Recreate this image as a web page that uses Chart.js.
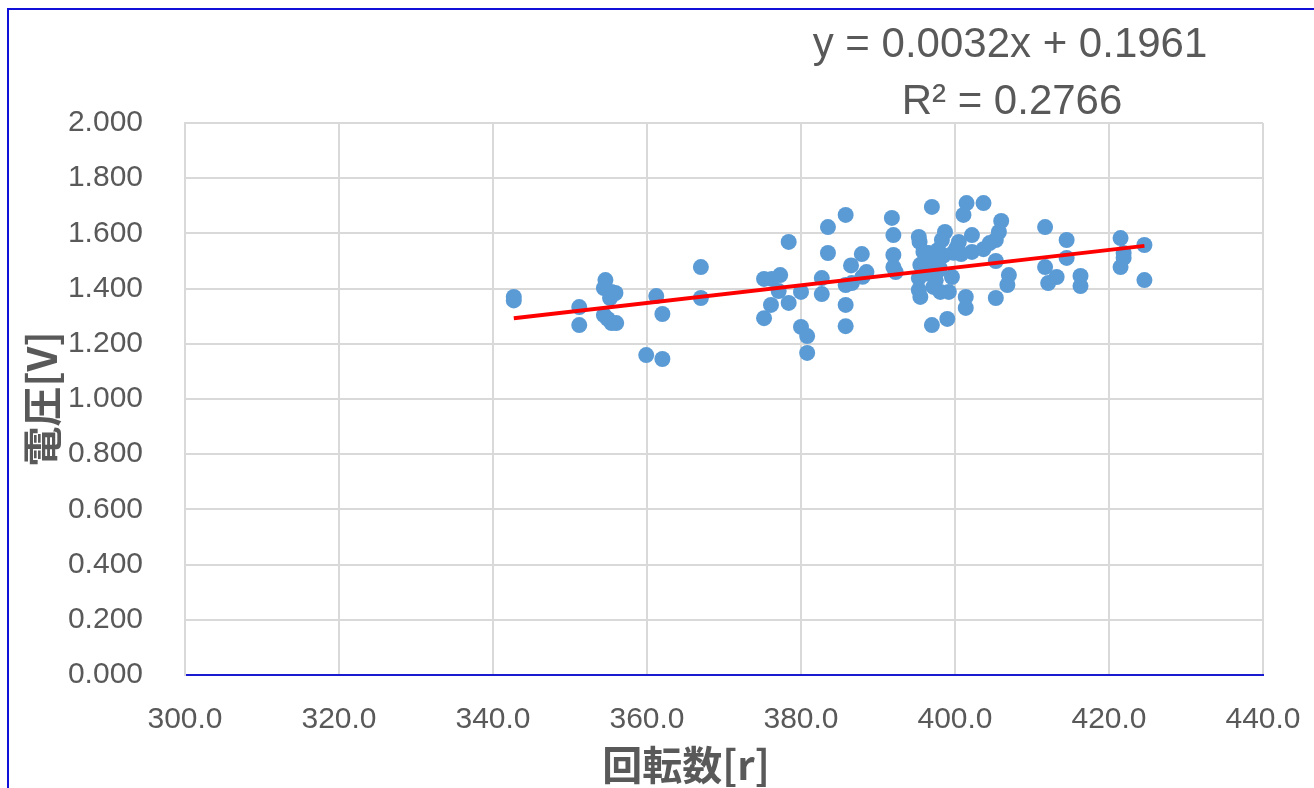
<!DOCTYPE html>
<html>
<head>
<meta charset="utf-8">
<script src="https://cdn.jsdelivr.net/npm/chart.js@4.4.1/dist/chart.umd.min.js"></script>
<style>
  html, body { margin: 0; padding: 0; background: #fff; }
  #wrap { position: relative; width: 1314px; height: 788px; overflow: hidden; }
  #frame { position: absolute; left: 7px; top: 8px; width: 1400px; height: 900px;
           border-left: 2px solid #1010d8; border-top: 2px solid #1010d8; pointer-events: none; }
  canvas { position: absolute; left: 0; top: 0; }
</style>
</head>
<body>
<div id="wrap">
  <canvas id="c" width="1314" height="788"></canvas>
  <div id="frame"></div>
</div>
<script>
// Measured samples: rotation count [r] vs. generated voltage [V]
const rpm = [
  342.7, 342.7, 351.2, 351.2, 354.6, 354.4, 355.4, 355.2, 355.9, 354.4,
  354.9, 355.4, 356.0, 359.9, 361.2, 362.0, 362.0, 367.0, 367.0, 375.2,
  376.2, 377.3, 377.1, 376.1, 375.2, 378.4, 378.4, 380.0, 380.0, 380.8,
  380.8, 383.5, 383.5, 382.7, 382.7, 385.8, 387.9, 386.5, 388.5, 385.8,
  385.8, 385.8, 386.6, 391.8, 392.0, 392.0, 392.0, 392.3, 397.0, 401.5,
  401.1, 403.7, 395.3, 395.4, 398.7, 398.3, 400.5, 402.2, 400.2, 402.2,
  403.7, 406.0, 405.7, 405.3, 405.3, 395.9, 396.6, 395.5, 395.3, 397.5,
  397.9, 399.6, 395.3, 395.5, 397.2, 398.1, 399.2, 401.4, 401.4, 405.3,
  397.0, 399.0, 407.0, 406.8, 411.7, 414.5, 414.5, 411.7, 412.1, 413.2,
  416.3, 416.3, 421.5, 421.9, 421.9, 421.5, 424.6, 424.6, 396.8, 398.5,
  399.8, 397.8, 396.3, 398.0, 396.5, 404.5, 400.8, 388.0, 397.5
];
const voltage = [
  1.370, 1.357, 1.333, 1.268, 1.431, 1.402, 1.388, 1.366, 1.384, 1.304,
  1.290, 1.275, 1.275, 1.159, 1.373, 1.308, 1.145, 1.478, 1.366, 1.435,
  1.435, 1.449, 1.391, 1.341, 1.293, 1.569, 1.348, 1.388, 1.261, 1.228,
  1.167, 1.623, 1.529, 1.438, 1.380, 1.667, 1.525, 1.484, 1.460, 1.413,
  1.341, 1.264, 1.420, 1.656, 1.594, 1.522, 1.478, 1.460, 1.696, 1.710,
  1.667, 1.710, 1.587, 1.569, 1.605, 1.576, 1.569, 1.594, 1.547, 1.533,
  1.543, 1.645, 1.605, 1.576, 1.500, 1.533, 1.529, 1.486, 1.438, 1.496,
  1.467, 1.442, 1.395, 1.370, 1.406, 1.388, 1.388, 1.370, 1.330, 1.366,
  1.268, 1.290, 1.449, 1.413, 1.623, 1.576, 1.511, 1.478, 1.420, 1.442,
  1.446, 1.409, 1.583, 1.529, 1.511, 1.478, 1.558, 1.431, 1.510, 1.520,
  1.530, 1.540, 1.455, 1.475, 1.475, 1.565, 1.525, 1.443, 1.430
];

// Linear trend line (least squares) as reported on the chart
const trendSlope = 0.0032;
const trendIntercept = 0.1961;
const trendR2 = 0.2766;

const xTicks = [300, 320, 340, 360, 380, 400, 420, 440];
const yTicks = [0, 0.2, 0.4, 0.6, 0.8, 1.0, 1.2, 1.4, 1.6, 1.8, 2.0];

const xTitle = '回転数[r]';
const yTitle = '電圧[V]';

const points = rpm.map((x, i) => ({ x: x, y: voltage[i] }));
const xMin = Math.min(...rpm), xMax = Math.max(...rpm);
const trend = [xMin, xMax].map(x => ({ x: x, y: trendSlope * x + trendIntercept }));

const grey = '#595959';
const labelFont = { family: '"Liberation Sans", Arial, sans-serif', size: 30 };
const titleFont = { family: '"Noto Sans CJK JP", "Noto Sans", sans-serif', size: 40, weight: 'bold', lineHeight: 1 };

// Equation, R² text and the horizontal axis title
const annotations = {
  id: 'annotations',
  afterDraw(chart) {
    const ctx = chart.ctx;
    ctx.save();
    ctx.fillStyle = grey;
    ctx.font = '42px "Liberation Sans", Arial, sans-serif';
    ctx.textAlign = 'center';
    ctx.textBaseline = 'middle';
    ctx.fillText('y = ' + trendSlope.toFixed(4) + 'x + ' + trendIntercept.toFixed(4), 1010, 45);
    ctx.fillText('R² = ' + trendR2.toFixed(4), 1012, 102);
    ctx.font = 'bold 40px "Noto Sans CJK JP", "Noto Sans", sans-serif';
    ctx.fillText(xTitle, 686, 765);
    ctx.restore();
  }
};

new Chart(document.getElementById('c'), {
  data: {
    datasets: [
      {
        type: 'scatter',
        data: points,
        backgroundColor: '#5b9bd5',
        borderColor: '#5b9bd5',
        pointRadius: 8,
        pointHoverRadius: 8,
        borderWidth: 0,
        order: 2
      },
      {
        type: 'line',
        data: trend,
        borderColor: '#ff0000',
        borderWidth: 4,
        pointRadius: 0,
        fill: false,
        order: 1
      }
    ]
  },
  options: {
    responsive: false,
    animation: false,
    events: [],
    layout: { padding: { left: 0, top: 123, right: 51, bottom: 0 } },
    plugins: { legend: { display: false }, tooltip: { enabled: false } },
    scales: {
      x: {
        type: 'linear',
        min: xTicks[0],
        max: xTicks[xTicks.length - 1],
        afterBuildTicks: s => { s.ticks = xTicks.map(v => ({ value: v })); },
        afterFit: s => { s.height = 113; s.paddingLeft = 0; s.paddingRight = 0; },
        grid: { color: '#d9d9d9', lineWidth: 2, drawTicks: false },
        border: { color: '#1a1ad0', width: 2 },
        ticks: { color: grey, font: labelFont, padding: 27, maxRotation: 0,
                 callback: v => Number(v).toFixed(1) },
        title: { display: false }
      },
      y: {
        type: 'linear',
        min: yTicks[0],
        max: yTicks[yTicks.length - 1],
        afterBuildTicks: s => { s.ticks = yTicks.map(v => ({ value: v })); },
        afterFit: s => { s.width = 185; s.paddingTop = 0; s.paddingBottom = 0; },
        grid: { color: '#d9d9d9', lineWidth: 2, drawTicks: false },
        border: { color: '#d9d9d9', width: 2 },
        ticks: { color: grey, font: labelFont, padding: 42,
                 callback: v => Number(v).toFixed(3) },
        title: { display: true, text: yTitle, color: grey, font: titleFont,
                 padding: { top: 22, bottom: 0 } }
      }
    }
  },
  plugins: [annotations]
});
</script>
</body>
</html>
